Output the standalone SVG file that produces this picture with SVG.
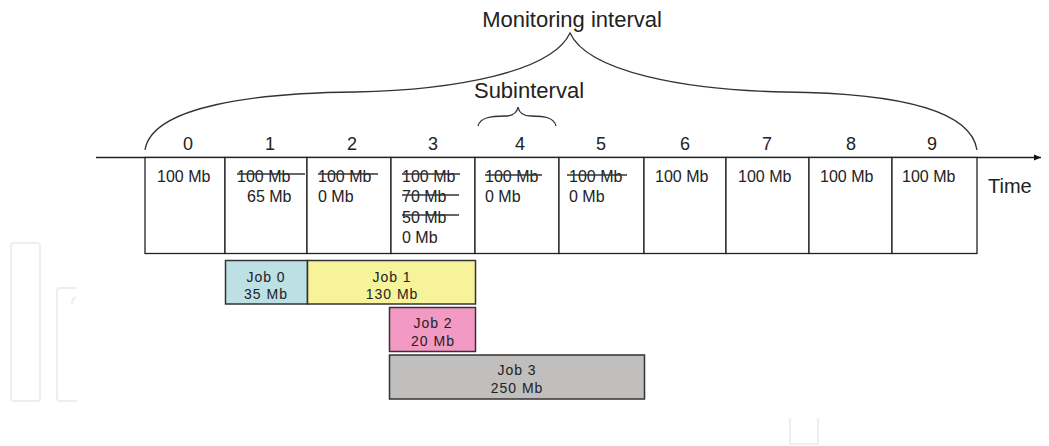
<svg xmlns="http://www.w3.org/2000/svg" width="1049" height="446" viewBox="0 0 1049 446">
<defs>
<marker id="arr" markerWidth="8" markerHeight="8" refX="7" refY="4" orient="auto" markerUnits="userSpaceOnUse">
<path d="M0,1 L7,4 L0,7 Z" fill="#111"/>
</marker>
<style>
.t{font-family:"Liberation Sans",Arial,sans-serif;fill:#222}
.big{font-size:22px}
.num{font-size:18px;text-anchor:middle}
.cell{font-size:16px}
.job{font-size:14px;letter-spacing:1px;text-anchor:middle}
.box{fill:#fff;stroke:#222;stroke-width:1.3}
.ln{stroke:#222;stroke-width:1.3;fill:none}
.st{stroke:#333;stroke-width:1.3}
.br{stroke:#333;stroke-width:1.3;fill:none}
.jb{stroke:#333;stroke-width:1.5}
.wm{fill:none;stroke:#eeeeee;stroke-width:2}
</style>
</defs>
<rect width="1049" height="446" fill="#fff"/>
<g id="watermark">
<rect class="wm" x="11" y="243" width="29" height="158" rx="3"/>
<path class="wm" d="M77,288 L60,288 Q57,288 57,291 L57,398 Q57,401 60,401 L77,401"/>
<path class="wm" d="M76,297 Q72,298 72,304"/>
<path class="wm" d="M790,418 L790,444 L818,444 L818,418"/>
</g>
<g id="connectors">
<line class="ln" x1="96" y1="157.5" x2="1041" y2="157.5" marker-end="url(#arr)"/>
<path id="brace-monitoring" class="br" d="M145,150 C152,105 260,93 355,92 C455,90 552,72 570,33 C588,72 685,90 785,92 C880,93 970,105 977,150"/>
<path id="brace-sub" class="br" d="M478,126 C480,118 490,116 505,116 C513,116 517,113 518,107 C519,113 523,116 531,116 C546,116 554,118 556,126"/>
</g>
<g id="label-monitoring"><text class="t big" x="572" y="27" text-anchor="middle">Monitoring interval</text></g>
<g id="label-subinterval"><text class="t big" x="529" y="98" text-anchor="middle">Subinterval</text></g>
<g id="label-time"><text class="t" x="988" y="193" font-size="20">Time</text></g>
<g id="numbers">
<text class="t num" x="188" y="150">0</text>
<text class="t num" x="270" y="150">1</text>
<text class="t num" x="352" y="150">2</text>
<text class="t num" x="433" y="150">3</text>
<text class="t num" x="520" y="150">4</text>
<text class="t num" x="601" y="150">5</text>
<text class="t num" x="685" y="150">6</text>
<text class="t num" x="767" y="150">7</text>
<text class="t num" x="851" y="150">8</text>
<text class="t num" x="932" y="150">9</text>
</g>
<g id="cell-0"><rect class="box" x="145" y="157.5" width="80" height="96"/><text class="t cell" x="157" y="181.5">100 Mb</text></g>
<g id="cell-1"><rect class="box" x="225" y="157.5" width="82" height="96"/><text class="t cell" x="237" y="181.5">100 Mb</text><line class="st" x1="237" y1="174" x2="305" y2="174"/><text class="t cell" x="247" y="202">65 Mb</text></g>
<g id="cell-2"><rect class="box" x="307" y="157.5" width="84" height="96"/><text class="t cell" x="318" y="181.5">100 Mb</text><line class="st" x1="318" y1="174" x2="378" y2="174"/><text class="t cell" x="318" y="202">0 Mb</text></g>
<g id="cell-3"><rect class="box" x="391" y="157.5" width="84" height="96"/><text class="t cell" x="402" y="181.5">100 Mb</text><line class="st" x1="402" y1="174" x2="460" y2="174"/><text class="t cell" x="402" y="202">70 Mb</text><line class="st" x1="402" y1="195" x2="459" y2="195"/><text class="t cell" x="402" y="222.5">50 Mb</text><line class="st" x1="402" y1="215" x2="459" y2="215"/><text class="t cell" x="402" y="243">0 Mb</text></g>
<g id="cell-4"><rect class="box" x="475" y="157.5" width="84" height="96"/><text class="t cell" x="485" y="181.5">100 Mb</text><line class="st" x1="485" y1="175" x2="542" y2="175"/><text class="t cell" x="485" y="202">0 Mb</text></g>
<g id="cell-5"><rect class="box" x="559" y="157.5" width="85" height="96"/><text class="t cell" x="569" y="181.5">100 Mb</text><line class="st" x1="567" y1="175" x2="627" y2="175"/><text class="t cell" x="569" y="202">0 Mb</text></g>
<g id="cell-6"><rect class="box" x="644" y="157.5" width="82" height="96"/><text class="t cell" x="655" y="181.5">100 Mb</text></g>
<g id="cell-7"><rect class="box" x="726" y="157.5" width="83" height="96"/><text class="t cell" x="738" y="181.5">100 Mb</text></g>
<g id="cell-8"><rect class="box" x="809" y="157.5" width="83" height="96"/><text class="t cell" x="820" y="181.5">100 Mb</text></g>
<g id="cell-9"><rect class="box" x="892" y="157.5" width="85" height="96"/><text class="t cell" x="902" y="181.5">100 Mb</text></g>
<g id="job-0"><rect class="jb" x="225.5" y="260.5" width="82" height="43.5" fill="#bce0e4"/><text class="t job" x="266" y="281.5">Job 0</text><text class="t job" x="266" y="299">35 Mb</text></g>
<g id="job-1"><rect class="jb" x="307.5" y="260.5" width="168" height="43.5" fill="#f7f39b"/><text class="t job" x="392" y="281.5">Job 1</text><text class="t job" x="392" y="299">130 Mb</text></g>
<g id="job-2"><rect class="jb" x="389.5" y="307.5" width="86" height="44" fill="#f39ac4"/><text class="t job" x="433" y="328">Job 2</text><text class="t job" x="433" y="346">20 Mb</text></g>
<g id="job-3"><rect class="jb" x="389.5" y="355" width="255" height="44" fill="#c0bfbd"/><text class="t job" x="517" y="375">Job 3</text><text class="t job" x="517" y="393">250 Mb</text></g>
</svg>
